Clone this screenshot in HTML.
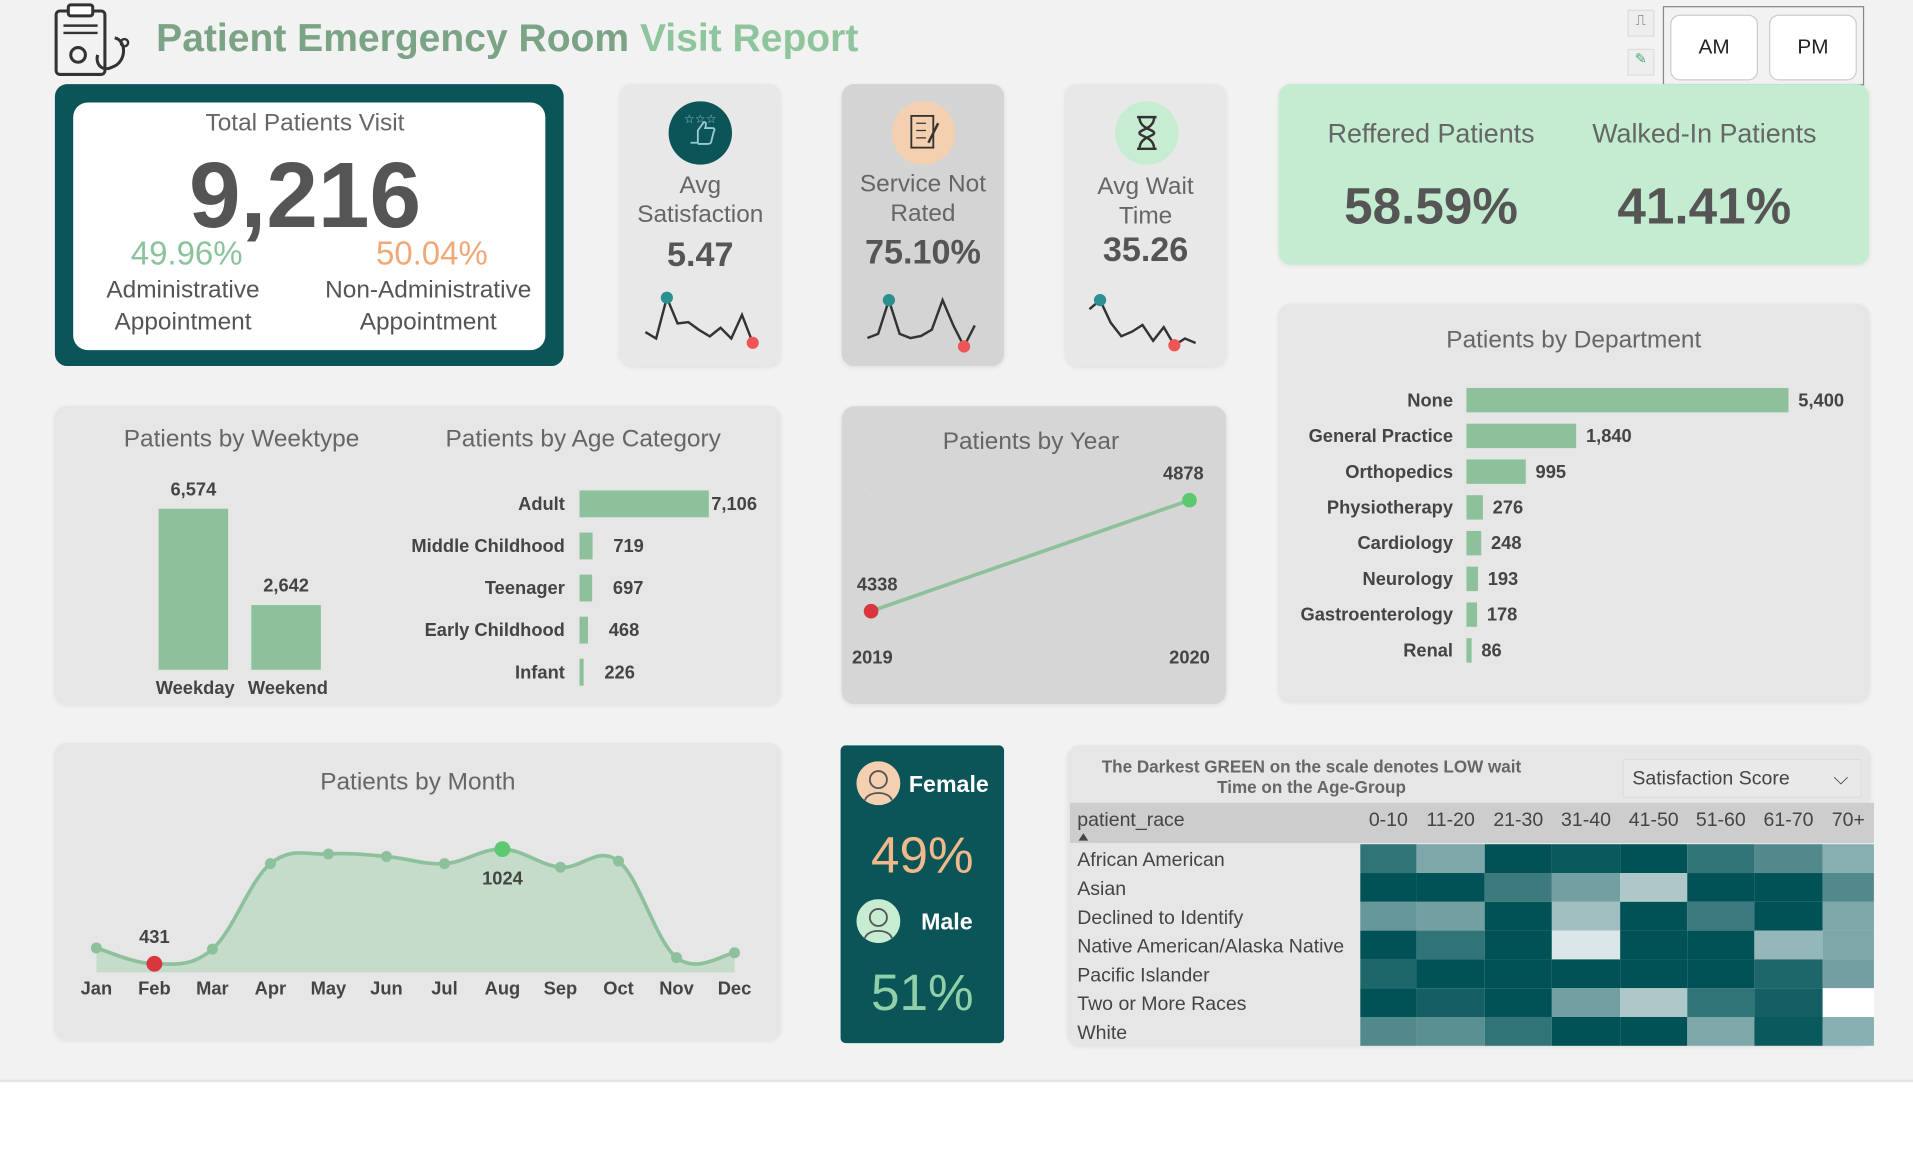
<!DOCTYPE html>
<html><head><meta charset="utf-8">
<style>
html,body{margin:0;padding:0;width:1913px;height:1168px;overflow:hidden;background:#fff;}
#stage{position:absolute;left:0;top:0;width:1568px;height:958px;transform:scale(1.22);transform-origin:0 0;font-family:"Liberation Sans Narrow","Liberation Sans",sans-serif;color:#555;}
.abs{position:absolute;}
.panel{position:absolute;background:#e6e6e6;border-radius:10px;box-shadow:0 1px 4px rgba(0,0,0,0.08);}
.c{text-align:center;}
.t20{font-size:20px;color:#666;}
</style></head><body>
<div id="stage">
<div class="abs" style="left:0;top:0;width:1568px;height:885px;background:#f2f2f2;border-bottom:2px solid #e4e4e4"></div>

<svg class="abs" style="left:44px;top:1px" width="66" height="62" viewBox="0 0 66 62">
<rect x="2" y="8" width="40" height="52" rx="3" fill="none" stroke="#333" stroke-width="2.5"/>
<rect x="12" y="3" width="20" height="9" rx="2" fill="#fff" stroke="#333" stroke-width="2.5"/>
<line x1="8" y1="20" x2="36" y2="20" stroke="#333" stroke-width="2"/><line x1="8" y1="26" x2="36" y2="26" stroke="#333" stroke-width="2"/>
<circle cx="20" cy="44" r="6" fill="none" stroke="#333" stroke-width="2.5"/>
<path d="M50 30 C60 32 60 50 48 54 C40 58 34 52 36 44" fill="none" stroke="#333" stroke-width="2.5"/>
<circle cx="58" cy="34" r="3" fill="none" stroke="#333" stroke-width="2"/></svg>
<div class="abs" style="left:128px;top:13px;font-family:'Liberation Sans',sans-serif;font-weight:bold;font-size:32px;color:#7ba386;white-space:nowrap">Patient Emergency Room <span style="color:#8fc59c">Visit Report</span></div>

<div class="abs" style="left:1334px;top:8px;width:20px;height:20px;background:#eee;border:1px solid #ddd;font-size:12px;text-align:center">⎍</div>
<div class="abs" style="left:1334px;top:40px;width:20px;height:20px;background:#eee;border:1px solid #ddd;font-size:12px;text-align:center;color:#4a7">✎</div>
<div class="abs" style="left:1363px;top:5px;width:163px;height:63px;border:1px solid #888"></div>
<div class="abs c" style="left:1369px;top:12px;width:70px;height:52px;line-height:52px;background:#fff;border:1px solid #ccc;border-radius:8px;font-size:17px;color:#222;font-family:'Liberation Sans',sans-serif">AM</div>
<div class="abs c" style="left:1450px;top:12px;width:70px;height:52px;line-height:52px;background:#fff;border:1px solid #ccc;border-radius:8px;font-size:17px;color:#222;font-family:'Liberation Sans',sans-serif">PM</div>

<div class="abs" style="left:45px;top:69px;width:417px;height:231px;background:#0b5458;border-radius:10px"></div>
<div class="abs" style="left:60px;top:84px;width:387px;height:203px;background:#fff;border-radius:12px"></div>
<div class="abs c t20" style="left:60px;top:90px;width:380px">Total Patients Visit</div>
<div class="abs c" style="left:60px;top:119px;width:380px;font-size:76px;font-weight:bold;color:#555;line-height:84px;font-family:'Liberation Sans',sans-serif">9,216</div>
<div class="abs c" style="left:53px;top:193px;width:200px;font-size:27px;color:#8bc39c">49.96%</div>
<div class="abs c" style="left:254px;top:193px;width:200px;font-size:27px;color:#f0a878">50.04%</div>
<div class="abs c t20" style="left:50px;top:225px;width:200px;line-height:26px;color:#555">Administrative<br>Appointment</div>
<div class="abs c t20" style="left:251px;top:225px;width:200px;line-height:26px;color:#555">Non-Administrative<br>Appointment</div>

<div class="panel" style="left:508px;top:69px;width:132px;height:231px;background:#e8e8e8"></div>
<div class="panel" style="left:690px;top:69px;width:133px;height:231px;background:#d4d4d4"></div>
<div class="panel" style="left:873px;top:69px;width:132px;height:231px;background:#e8e8e8"></div>
<svg class="abs" style="left:548px;top:83px" width="52" height="52"><circle cx="26" cy="26" r="26" fill="#0b5458"/><path d="M18 34 h6 v-10 l5 -7 c2 0 2 2 1 5 h6 c2 0 2 2 1 3 l-2 8 c0 1 -1 2 -3 2 h-8" fill="none" stroke="#9cc" stroke-width="1.5"/><text x="26" y="18" font-size="10" fill="#9cc" text-anchor="middle">☆☆☆</text></svg>
<svg class="abs" style="left:731px;top:83px" width="52" height="52"><circle cx="26" cy="26" r="26" fill="#f5d0b0"/><rect x="16" y="12" width="18" height="26" fill="none" stroke="#333" stroke-width="1.5"/><line x1="20" y1="18" x2="28" y2="18" stroke="#333"/><line x1="20" y1="24" x2="28" y2="24" stroke="#333"/><line x1="20" y1="30" x2="28" y2="30" stroke="#333"/><line x1="30" y1="34" x2="38" y2="18" stroke="#333" stroke-width="2"/></svg>
<svg class="abs" style="left:914px;top:83px" width="52" height="52"><circle cx="26" cy="26" r="26" fill="#c6ecd2"/><path d="M18 13 h16 M18 39 h16 M20 13 c0 10 12 10 12 13 c0 3 -12 3 -12 13 M32 13 c0 10 -12 10 -12 13 c0 3 12 3 12 13" fill="none" stroke="#333" stroke-width="2"/></svg>
<div class="abs c t20" style="left:508px;top:140px;width:132px;line-height:24px">Avg<br>Satisfaction</div>
<div class="abs c t20" style="left:690px;top:139px;width:133px;line-height:24px">Service Not<br>Rated</div>
<div class="abs c t20" style="left:873px;top:141px;width:132px;line-height:24px">Avg Wait<br>Time</div>
<div class="abs c" style="left:508px;top:193px;width:132px;font-size:28px;font-weight:bold">5.47</div>
<div class="abs c" style="left:690px;top:191px;width:133px;font-size:28px;font-weight:bold">75.10%</div>
<div class="abs c" style="left:873px;top:189px;width:132px;font-size:28px;font-weight:bold">35.26</div>
<svg id="spark" class="abs" style="left:0;top:0" width="1568" height="320"></svg>

<div class="panel" style="left:1048px;top:69px;width:484px;height:148px;background:#c3ecd0"></div>
<div class="abs c" style="left:1073px;top:97px;width:200px;font-size:22px;color:#666">Reffered Patients</div>
<div class="abs c" style="left:1287px;top:97px;width:220px;font-size:22px;color:#666">Walked-In Patients</div>
<div class="abs c" style="left:1073px;top:145px;width:200px;font-size:42px;font-weight:bold;color:#555">58.59%</div>
<div class="abs c" style="left:1297px;top:145px;width:200px;font-size:42px;font-weight:bold;color:#555">41.41%</div>

<div class="panel" style="left:1048px;top:249px;width:484px;height:326px"></div>
<div class="panel" style="left:45px;top:333px;width:595px;height:244px"></div>
<div class="panel" style="left:690px;top:333px;width:315px;height:244px;background:#d6d6d6"></div>
<div class="panel" style="left:45px;top:609px;width:595px;height:243px"></div>
<div class="abs" style="left:689px;top:611px;width:134px;height:244px;background:#0b5458;border-radius:4px"></div>
<div class="panel" style="left:875px;top:611px;width:658px;height:246px"></div>

<div class="abs c t20" style="left:1048px;top:268px;width:484px">Patients by Department</div>
<div class="abs c t20" style="left:88px;top:349px;width:220px">Patients by Weektype</div>
<div class="abs c t20" style="left:348px;top:349px;width:260px">Patients by Age Category</div>
<div class="abs c t20" style="left:690px;top:351px;width:310px">Patients by Year</div>
<div class="abs c t20" style="left:45px;top:630px;width:595px">Patients by Month</div>

<svg class="abs" style="left:702px;top:624px" width="36" height="36"><circle cx="18" cy="18" r="18" fill="#f5d0b0"/><circle cx="18" cy="15" r="7" fill="none" stroke="#555" stroke-width="1.5"/><path d="M7 32 c2-8 20-8 22 0" fill="none" stroke="#555" stroke-width="1.5"/></svg>
<div class="abs" style="left:745px;top:633px;font-size:19px;font-weight:bold;color:#fff;font-family:'Liberation Sans',sans-serif">Female</div>
<div class="abs c" style="left:689px;top:677px;width:134px;font-size:42px;color:#f0b98a">49%</div>
<svg class="abs" style="left:702px;top:737px" width="36" height="36"><circle cx="18" cy="18" r="18" fill="#c6ecd2"/><circle cx="18" cy="15" r="7" fill="none" stroke="#555" stroke-width="1.5"/><path d="M7 32 c2-8 20-8 22 0" fill="none" stroke="#555" stroke-width="1.5"/></svg>
<div class="abs" style="left:755px;top:746px;font-size:19px;font-weight:bold;color:#fff;font-family:'Liberation Sans',sans-serif">Male</div>
<div class="abs c" style="left:689px;top:790px;width:134px;font-size:42px;color:#8fd0a8">51%</div>

<div class="abs c" style="left:890px;top:620px;width:370px;font-size:14px;font-weight:bold;color:#666;line-height:17px">The Darkest GREEN on the scale denotes LOW wait<br>Time on the Age-Group</div>
<div class="abs" style="left:1330px;top:622px;width:196px;height:32px;background:#e9e9e9;border:1px solid #ddd;font-size:16px;line-height:32px;color:#444;padding-left:7px;box-sizing:border-box">Satisfaction Score<span style="position:absolute;right:10px;top:0">⌵</span></div>

<svg id="charts" class="abs" style="left:0;top:0" width="1568" height="958"></svg>

<script>
const deptNames=["None","General Practice","Orthopedics","Physiotherapy","Cardiology","Neurology","Gastroenterology","Renal"];
const deptValues=[5400,1840,995,276,248,193,178,86];
const deptLabels=["5,400","1,840","995","276","248","193","178","86"];
const weekNames=["Weekday","Weekend"];
const weekValues=[6574,2642];
const weekLabels=["6,574","2,642"];
const ageNames=["Adult","Middle Childhood","Teenager","Early Childhood","Infant"];
const ageValues=[7106,719,697,468,226];
const ageLabels=["7,106","719","697","468","226"];
const yearNames=["2019","2020"];
const yearValues=[4338,4878];
const monthNames=["Jan","Feb","Mar","Apr","May","Jun","Jul","Aug","Sep","Oct","Nov","Dec"];
const monthValues=[513,431,507,949,999,986,949,1024,930,962,463,488];
const raceNames=["African American","Asian","Declined to Identify","Native American/Alaska Native","Pacific Islander","Two or More Races","White"];
const ageGroups=["0-10","11-20","21-30","31-40","41-50","51-60","61-70","70+"];
const heatValues=[
[7.5,4,10,9.5,10,7.5,6,3.5],
[10,10,7,4.5,2,10,10,6],
[5,4.5,10,2.5,10,7,10,4],
[10,7.5,10,0.5,10,10,3,4],
[8.5,10,10,10,10,10,8.5,4.5],
[10,9,10,4.5,2,7.5,9,0],
[6,5.5,7.5,10,10,4,9.5,3.5]];
const sparkSat=[4,2.5,12,6,6.3,4.5,3,5,2.5,8,1.5];
const sparkNR=[3,4,12,4,3,3.5,5,12,6,1,6];
const sparkWait=[10,12,7,4,5,6.5,3,6,2,3.5,2.5];

const NS="http://www.w3.org/2000/svg";
const svg=document.getElementById('charts');
function mk(tag,attrs,parent){const e=document.createElementNS(NS,tag);for(const k in attrs)e.setAttribute(k,attrs[k]);(parent||svg).appendChild(e);return e;}
function txt(x,y,s,attrs){const t=mk('text',Object.assign({x:x,y:y,'font-size':15,fill:'#444','font-family':'Liberation Sans Narrow, Liberation Sans, sans-serif'},attrs||{}));t.textContent=s;return t;}

const dx0=1202,dScale=v=>v/5400*264;
deptNames.forEach((n,i)=>{const cy=328+i*29.3;
 let l=txt(1191,cy+5,n,{'text-anchor':'end','font-weight':'bold'});
 
 
 let r=mk('rect',{x:dx0,y:cy-10,width:dScale(deptValues[i]),height:20,fill:'#8dc19c'});
 
 
 let v=txt(dx0+dScale(deptValues[i])+8,cy+5,deptLabels[i],{'font-weight':'bold'});
 
 
});

const wBase=549,wScale=v=>v/6574*132;
weekNames.forEach((n,i)=>{const x=130+i*76;const h=wScale(weekValues[i]);
 let r=mk('rect',{x:x,y:wBase-h,width:57,height:h,fill:'#8dc19c'});
 
 
 let v=txt(x+28.5,wBase-h-11,weekLabels[i],{'text-anchor':'middle','font-weight':'bold'});
 
 
 let l=txt(x+30,569,n,{'text-anchor':'middle','font-weight':'bold'});
 
 
});

const aScale=v=>v/7106*106;
ageNames.forEach((n,i)=>{const cy=413+i*34.5;
 let l=txt(463,cy+5,n,{'text-anchor':'end','font-weight':'bold'});
 
 
 let r=mk('rect',{x:475,y:cy-11,width:Math.max(aScale(ageValues[i]),3),height:22,fill:'#8dc19c'});
 
 
 let v=txt(475+Math.max(aScale(ageValues[i]),3)+(i==0?2:17),cy+5,ageLabels[i],{'font-weight':'bold'});
 
 
});

const yx=i=>714+i*261, yy=v=>501-(v-4338)/(4878-4338)*91;
let yl=mk('line',{x1:yx(0),y1:yy(yearValues[0]),x2:yx(1),y2:yy(yearValues[1]),stroke:'#8dc19c','stroke-width':3});


mk('line',{x1:714,y1:400,x2:714,y2:520,stroke:'#ccc','stroke-dasharray':'1 6'});
mk('line',{x1:975,y1:400,x2:975,y2:520,stroke:'#ccc','stroke-dasharray':'1 6'});
yearValues.forEach((v,i)=>{
 let c=mk('circle',{cx:yx(i),cy:yy(v),r:6,fill:i==0?'#d9363e':'#5cc86f'});
 
 
 let t=txt(yx(i)+(i==0?5:-5),yy(v)-17,String(v),{'text-anchor':'middle','font-weight':'bold'});
 
 
 let a=txt(yx(i)+(i==0?1:0),544,yearNames[i],{'text-anchor':'middle','font-weight':'bold'});
 
 
});

const mx=i=>79+i*47.55, my=v=>790-(v-431)/(1024-431)*94, mBase=797;
const pts=monthValues.map((v,i)=>[mx(i),my(v)]);
function smooth(p){let d='M'+p[0][0]+','+p[0][1];for(let i=0;i<p.length-1;i++){const p0=p[i-1]||p[i],p1=p[i],p2=p[i+1],p3=p[i+2]||p2;const t=0.18;
 d+=' C'+(p1[0]+(p2[0]-p0[0])*t)+','+(p1[1]+(p2[1]-p0[1])*t)+' '+(p2[0]-(p3[0]-p1[0])*t)+','+(p2[1]-(p3[1]-p1[1])*t)+' '+p2[0]+','+p2[1];}return d;}
const ld=smooth(pts);
let ar=mk('path',{d:ld+' L'+mx(11)+','+mBase+' L'+mx(0)+','+mBase+' Z',fill:'#c5dccb'});


let ml=mk('path',{d:ld,fill:'none',stroke:'#8dc19c','stroke-width':3});


const minI=monthValues.indexOf(Math.min(...monthValues)),maxI=monthValues.indexOf(Math.max(...monthValues));
monthValues.forEach((v,i)=>{
 let c=mk('circle',{cx:mx(i),cy:my(v),r:(i==minI||i==maxI)?6.5:4.5,fill:i==minI?'#d9363e':(i==maxI?'#5cc86f':'#8dc19c')});
 
 
 let a=txt(mx(i),815,monthNames[i],{'text-anchor':'middle','font-weight':'bold'});
 
 
});
let mn=txt(mx(minI),773,String(monthValues[minI]),{'text-anchor':'middle','font-weight':'bold'});


let mxl=txt(mx(maxI),725,String(monthValues[maxI]),{'text-anchor':'middle','font-weight':'bold'});



const colX=[1115,1161,1217,1272,1328,1383,1438,1494,1536];
const hy0=692,rowH=23.6;
let hb=mk('rect',{x:877,y:658,width:659,height:33,fill:'#cdcdcd'});


let ph=txt(883,677,'patient_race',{'font-size':16,fill:'#444'});


mk('path',{d:'M884 689 l4 -6 l4 6 z',fill:'#444'});
ageGroups.forEach((g,j)=>{
 let t=txt((colX[j]+colX[j+1])/2,677,g,{'text-anchor':'middle','font-size':16,fill:'#444'});
 
 
});
function col(v){const t=Math.pow(v/10,0.8);const a=[240,245,245],b=[0,82,87];return 'rgb('+a.map((c,k)=>Math.round(c+(b[k]-c)*t)).join(',')+')';}
raceNames.forEach((r,i)=>{
 let t=txt(883,hy0+i*rowH+18,r,{'font-size':16,fill:'#444'});
 
 
 heatValues[i].forEach((v,j)=>{
  let c=mk('rect',{x:colX[j],y:hy0+i*rowH,width:colX[j+1]-colX[j],height:rowH,fill:v===0?'#ffffff':col(v)});
  
  
 });
});

const sp=document.getElementById('spark');
function spark(vals,x0,x1,ytop,ybot,name){
 const mx=Math.max(...vals),mn=Math.min(...vals);
 const X=i=>x0+i*(x1-x0)/(vals.length-1),Y=v=>ybot-(v-mn)/(mx-mn)*(ybot-ytop);
 const p=mk('polyline',{points:vals.map((v,i)=>X(i)+','+Y(v)).join(' '),fill:'none',stroke:'#333','stroke-width':2},sp);
 
 
 const hi=vals.indexOf(mx),lo=vals.indexOf(mn);
 mk('circle',{cx:X(hi),cy:Y(mx),r:5,fill:'#2a9090'},sp);
 mk('circle',{cx:X(lo),cy:Y(mn),r:5,fill:'#f05555'},sp);
}
spark(sparkSat,529,617,244,281,'satisfaction-sparkline');
spark(sparkNR,711,799,246,284,'not-rated-sparkline');
spark(sparkWait,893,980,246,283,'wait-time-sparkline');
</script>
</div>
</body></html>
